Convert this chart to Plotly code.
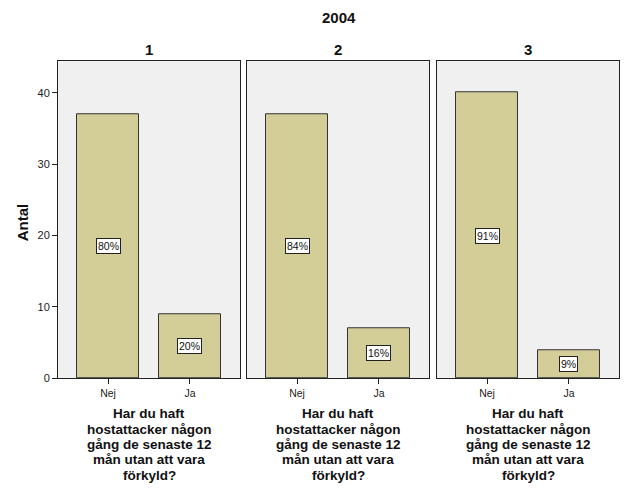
import plotly.graph_objects as go

panels = ["1", "2", "3"]
categories = ["Nej", "Ja"]
counts = [[37, 9], [37, 7], [40, 4]]
percents = [["80%", "20%"], ["84%", "16%"], ["91%", "9%"]]
main_title = "2004"
y_title = "Antal"
x_title_lines = ["Har du haft", "hostattacker någon", "gång de senaste 12",
                 "mån utan att vara", "förkyld?"]
y_ticks = [0, 10, 20, 30, 40]

W, H = 626, 501
FONT = "Liberation Sans, Arial, sans-serif"
x_domains = [(58, 240), (247, 429), (437, 619)]
y_top, y_bot = 62, 383

fig = go.Figure()
annotations = []
for i, p in enumerate(panels):
    ax = "" if i == 0 else str(i + 1)
    fig.add_trace(go.Bar(
        x=[0, 1], y=counts[i], width=0.756,
        marker=dict(color="#D3CE98", line=dict(color="#333333", width=1)),
        xaxis="x" + ax, yaxis="y" + ax, showlegend=False, hoverinfo="skip",
    ))
    x0, x1 = x_domains[i]
    fig.layout["xaxis" + ax] = dict(
        domain=[x0 / W, x1 / W], range=[-0.61, 1.61],
        tickvals=[0, 1], ticktext=categories, ticks="outside", ticklen=5,
        tickcolor="#222", tickfont=dict(size=10.5, color="#222", family=FONT),
        showline=True, linecolor="#222", mirror=True, showgrid=False, zeroline=False,
        anchor="y" + ax, fixedrange=True,
    )
    fig.layout["yaxis" + ax] = dict(
        domain=[1 - y_bot / H, 1 - y_top / H], range=[0, 44.4],
        tickvals=y_ticks if i == 0 else [], ticks="outside" if i == 0 else "",
        ticklen=5, tickcolor="#222", tickfont=dict(size=11, color="#222", family=FONT),
        showticklabels=(i == 0),
        showline=True, linecolor="#222", mirror=True, showgrid=False, zeroline=False,
        anchor="x" + ax, fixedrange=True,
    )
    for j in range(2):
        annotations.append(dict(
            x=j, y=counts[i][j] / 2, xref="x" + ax, yref="y" + ax,
            text=percents[i][j], showarrow=False, bgcolor="white",
            bordercolor="#222", borderwidth=1, borderpad=1,
            font=dict(size=10.5, color="#111", family=FONT),
        ))
    cx = (x0 + x1) / 2 / W
    annotations.append(dict(
        x=cx, y=1 - 50 / H, xref="paper", yref="paper", text="<b>%s</b>" % p,
        showarrow=False, font=dict(size=15, color="#111", family=FONT),
        xanchor="center", yanchor="middle",
    ))
    for k, line in enumerate(x_title_lines):
        annotations.append(dict(
            x=cx, y=1 - (419 + 15.5 * k) / H, xref="paper", yref="paper",
            text="<b>%s</b>" % line, showarrow=False,
            font=dict(size=13.5, color="#111", family=FONT),
            xanchor="center", yanchor="middle", borderpad=0,
        ))

annotations.append(dict(
    x=0.5 * (58 + 619) / W, y=1 - 18 / H, xref="paper", yref="paper",
    text="<b>%s</b>" % main_title, showarrow=False,
    font=dict(size=15, color="#111", family=FONT), xanchor="center", yanchor="middle",
))
annotations.append(dict(
    x=22 / W, y=1 - 225 / H, xref="paper", yref="paper",
    text="<b>%s</b>" % y_title, showarrow=False, textangle=-90,
    font=dict(size=15, color="#111", family=FONT), xanchor="center", yanchor="middle",
))

fig.update_layout(
    width=W, height=H, margin=dict(l=0, r=0, t=0, b=0),
    paper_bgcolor="white", plot_bgcolor="#F0F0F0",
    annotations=annotations, bargap=0,
)
fig.write_html("out.html", config={"displayModeBar": False})
